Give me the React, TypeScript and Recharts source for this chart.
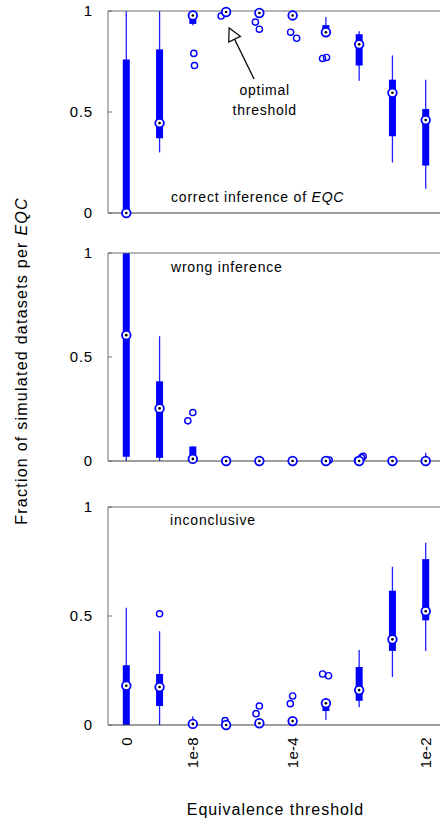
import React from "react";
import { ComposedChart, Line, Scatter, XAxis, YAxis, ReferenceLine } from "recharts";

// x categories (only some of them carry a label in the figure)
const thresholds = ["0", "", "1e-8", "", "", "1e-4", "", "", "", "1e-2"];
const labelledTicks = [0, 2, 5, 9];
const yTicks = [0, 0.5, 1];

type Outlier = { cat: number; jitter: number; value: number };

// correct inference of EQC
const correctLow = [0, 0.3, 0.93, 0.99, 0.985, 0.975, 0.885, 0.655, 0.25, 0.12];
const correctQ1 = [0, 0.37, 0.936, 0.99, 0.985, 0.975, 0.89, 0.73, 0.38, 0.235];
const correctMedian = [0, 0.445, 0.978, 0.995, 0.99, 0.978, 0.895, 0.835, 0.595, 0.46];
const correctQ3 = [0.76, 0.81, 0.995, 1, 1, 0.99, 0.93, 0.885, 0.66, 0.515];
const correctHigh = [1, 1, 1, 1, 1, 1, 0.97, 0.9, 0.78, 0.66];
const correctOutliers: Outlier[] = [
  { cat: 2, jitter: 0.03, value: 0.79 },
  { cat: 2, jitter: 0.05, value: 0.73 },
  { cat: 3, jitter: -0.15, value: 0.975 },
  { cat: 4, jitter: -0.12, value: 0.945 },
  { cat: 4, jitter: 0.0, value: 0.91 },
  { cat: 5, jitter: -0.06, value: 0.895 },
  { cat: 5, jitter: 0.12, value: 0.865 },
  { cat: 6, jitter: -0.1, value: 0.765 },
  { cat: 6, jitter: 0.02, value: 0.77 },
];

// wrong inference
const wrongLow = [0, 0, 0, 0, 0, 0, 0, 0, 0, 0];
const wrongQ1 = [0.02, 0.015, 0, 0, 0, 0, 0, 0, 0, 0];
const wrongMedian = [0.605, 0.253, 0.01, 0, 0, 0, 0, 0, 0, 0];
const wrongQ3 = [1, 0.383, 0.07, 0, 0, 0, 0, 0, 0, 0];
const wrongHigh = [1, 0.6, 0.07, 0, 0, 0, 0, 0, 0, 0.04];
const wrongOutliers: Outlier[] = [
  { cat: 2, jitter: -0.15, value: 0.193 },
  { cat: 2, jitter: 0.0, value: 0.233 },
  { cat: 6, jitter: 0.1, value: 0.005 },
  { cat: 7, jitter: -0.05, value: 0.003 },
  { cat: 7, jitter: 0.07, value: 0.016 },
  { cat: 7, jitter: 0.12, value: 0.022 },
];

// inconclusive
const incLow = [0, 0, 0, 0, 0, 0, 0.023, 0.081, 0.22, 0.34];
const incQ1 = [0, 0.087, 0, 0, 0, 0.005, 0.064, 0.111, 0.34, 0.48];
const incMedian = [0.18, 0.174, 0.005, 0, 0.008, 0.018, 0.1, 0.16, 0.393, 0.522];
const incQ3 = [0.274, 0.234, 0.01, 0.005, 0.015, 0.025, 0.11, 0.266, 0.616, 0.761];
const incHigh = [0.538, 0.43, 0.04, 0.01, 0.02, 0.03, 0.11, 0.344, 0.726, 0.836];
const incOutliers: Outlier[] = [
  { cat: 1, jitter: 0.0, value: 0.51 },
  { cat: 3, jitter: -0.03, value: 0.02 },
  { cat: 4, jitter: -0.1, value: 0.052 },
  { cat: 4, jitter: 0.0, value: 0.087 },
  { cat: 5, jitter: -0.07, value: 0.098 },
  { cat: 5, jitter: 0.0, value: 0.133 },
  { cat: 6, jitter: -0.1, value: 0.234 },
  { cat: 6, jitter: 0.08, value: 0.226 },
];

// annotation arrow, in data units of the top panel
const arrowTail = { x: 3.84, y: 0.663 };
const arrowTip = { x: 3.09, y: 0.916 };

const FONT = '"Liberation Sans", Arial, Helvetica, sans-serif';
const BLUE = "#0000ff";
const FRAME = "#6e6e6e";
const X_DOMAIN: [number, number] = [-0.55, 9.55];

const MedianDot = (props: any) => {
  const { cx, cy } = props;
  if (cx == null || cy == null) return <g />;
  return (
    <g>
      <circle cx={cx} cy={cy} r={4.3} fill="#fff" stroke={BLUE} strokeWidth={1.8} />
      <circle cx={cx} cy={cy} r={1.3} fill="#000" />
    </g>
  );
};

const OutlierDot = (props: any) => {
  const { cx, cy } = props;
  if (cx == null || cy == null) return <g />;
  return <circle cx={cx} cy={cy} r={3.1} fill="none" stroke={BLUE} strokeWidth={1.4} />;
};

const YTick = (props: any) => {
  const { x, y, payload } = props;
  return (
    <text x={x} y={y} dy="0.355em" textAnchor="end" fontFamily={FONT} fontSize={15} letterSpacing={0.8} fill="#000">
      {payload.value}
    </text>
  );
};

const XTick = (props: any) => {
  const { x, y, payload } = props;
  return (
    <text
      x={x}
      y={y}
      dy="0.35em"
      textAnchor="end"
      transform={`rotate(-90 ${x} ${y})`}
      fontFamily={FONT}
      fontSize={15}
      letterSpacing={0.3}
      fill="#000"
    >
      {thresholds[payload.value]}
    </text>
  );
};

const ArrowShape = (props: any) => {
  const { x1, y1, x2, y2 } = props;
  const dx = x1 - x2;
  const dy = y1 - y2;
  const len = Math.hypot(dx, dy) || 1;
  const ux = dx / len;
  const uy = dy / len;
  const hl = 12.5;
  const hw = 6.5;
  const bx = x2 + ux * hl;
  const by = y2 + uy * hl;
  const pts = `${x2},${y2} ${bx - uy * hw},${by + ux * hw} ${bx + uy * hw},${by - ux * hw}`;
  return (
    <g>
      <line x1={x1} y1={y1} x2={bx} y2={by} stroke="#000" strokeWidth={1.3} />
      <polygon points={pts} fill="#fff" stroke="#000" strokeWidth={1.2} />
      <text x={x1 + 10.6} y={y1 + 16.3} textAnchor="middle" fontFamily={FONT} fontSize={14} letterSpacing={0.75} fill="#000">
        optimal
      </text>
      <text x={x1 + 10.7} y={y1 + 36} textAnchor="middle" fontFamily={FONT} fontSize={14} letterSpacing={0.75} fill="#000">
        threshold
      </text>
    </g>
  );
};

interface PanelProps {
  top: number;
  plotHeight: number;
  low: number[];
  q1: number[];
  median: number[];
  q3: number[];
  high: number[];
  outliers: Outlier[];
  bottomLabels?: boolean;
  children?: React.ReactNode;
}

function Panel({ top, plotHeight, low, q1, median, q3, high, outliers, bottomLabels, children }: PanelProps) {
  const axisHeight = bottomLabels ? 60 : 14;
  const medians = median.map((v, i) => ({ x: i, y: v }));
  const outs = outliers.map((o) => ({ x: o.cat + o.jitter, y: o.value }));

  return (
    <div style={{ position: "absolute", left: 0, top: top - 10 }}>
      <ComposedChart width={460} height={10 + plotHeight + axisHeight} margin={{ top: 9, right: 15, bottom: 0, left: 0 }}>
        <XAxis
          dataKey="x"
          type="number"
          domain={X_DOMAIN}
          ticks={bottomLabels ? labelledTicks : []}
          interval={0}
          height={axisHeight}
          tickLine={false}
          tickSize={0}
          tickMargin={12}
          tick={bottomLabels ? XTick : false}
          axisLine={{ stroke: "#3c3c3c" }}
        />
        <XAxis
          xAxisId="top"
          orientation="top"
          type="number"
          domain={X_DOMAIN}
          height={1}
          tick={false}
          tickLine={false}
          axisLine={{ stroke: FRAME }}
        />
        <YAxis
          dataKey="y"
          type="number"
          domain={[0, 1]}
          ticks={yTicks}
          interval={0}
          width={108}
          tickSize={-4}
          tickMargin={19}
          tick={YTick}
          tickLine={{ stroke: FRAME }}
          axisLine={{ stroke: FRAME }}
        />
        <YAxis
          yAxisId="r"
          orientation="right"
          type="number"
          domain={[0, 1]}
          ticks={[0.5]}
          interval={0}
          width={1}
          tickSize={-4}
          tickFormatter={() => ""}
          tickLine={{ stroke: FRAME }}
          axisLine={{ stroke: FRAME }}
        />

        {low.map((lo, i) => (
          <Line
            key={`w${i}`}
            data={[
              { x: i, y: lo },
              { x: i, y: high[i] },
            ]}
            dataKey="y"
            stroke="#1f1fff"
            strokeWidth={1.3}
            dot={false}
            activeDot={false}
            isAnimationActive={false}
          />
        ))}
        {q1.map((lo, i) => (
          <Line
            key={`b${i}`}
            data={[
              { x: i, y: lo },
              { x: i, y: q3[i] },
            ]}
            dataKey="y"
            stroke={BLUE}
            strokeWidth={7}
            dot={false}
            activeDot={false}
            isAnimationActive={false}
          />
        ))}
        <Scatter data={outs} dataKey="y" shape={OutlierDot} isAnimationActive={false} />
        <Scatter data={medians} dataKey="y" shape={MedianDot} isAnimationActive={false} />
        {children}
      </ComposedChart>
    </div>
  );
}

export default function App() {
  return (
    <div style={{ position: "absolute", left: 0, top: 0, width: 440, height: 822, overflow: "hidden", background: "#fff" }}>
      <Panel
        top={11}
        plotHeight={202}
        low={correctLow}
        q1={correctQ1}
        median={correctMedian}
        q3={correctQ3}
        high={correctHigh}
        outliers={correctOutliers}
      >
        <ReferenceLine segment={[arrowTail, arrowTip]} ifOverflow="visible" shape={ArrowShape} />
      </Panel>
      <Panel
        top={253}
        plotHeight={208}
        low={wrongLow}
        q1={wrongQ1}
        median={wrongMedian}
        q3={wrongQ3}
        high={wrongHigh}
        outliers={wrongOutliers}
      />
      <Panel
        top={507}
        plotHeight={218}
        low={incLow}
        q1={incQ1}
        median={incMedian}
        q3={incQ3}
        high={incHigh}
        outliers={incOutliers}
        bottomLabels
      />

      <svg width={440} height={822} style={{ position: "absolute", left: 0, top: 0, pointerEvents: "none" }}>
        <g fontFamily={FONT} fill="#000">
          <text x={171} y={202} fontSize={14} letterSpacing={0.8}>
            correct inference of <tspan fontStyle="italic">EQC</tspan>
          </text>
          <text x={171} y={272} fontSize={14} letterSpacing={0.8}>
            wrong inference
          </text>
          <text x={170} y={525} fontSize={14} letterSpacing={0.8}>
            inconclusive
          </text>
          <text x={275.5} y={815} fontSize={16} letterSpacing={0.95} textAnchor="middle">
            Equivalence threshold
          </text>
          <text x={27} y={361} fontSize={16} letterSpacing={1.25} textAnchor="middle" transform="rotate(-90 27 361)">
            Fraction of simulated datasets per <tspan fontStyle="italic">EQC</tspan>
          </text>
        </g>
      </svg>
    </div>
  );
}
